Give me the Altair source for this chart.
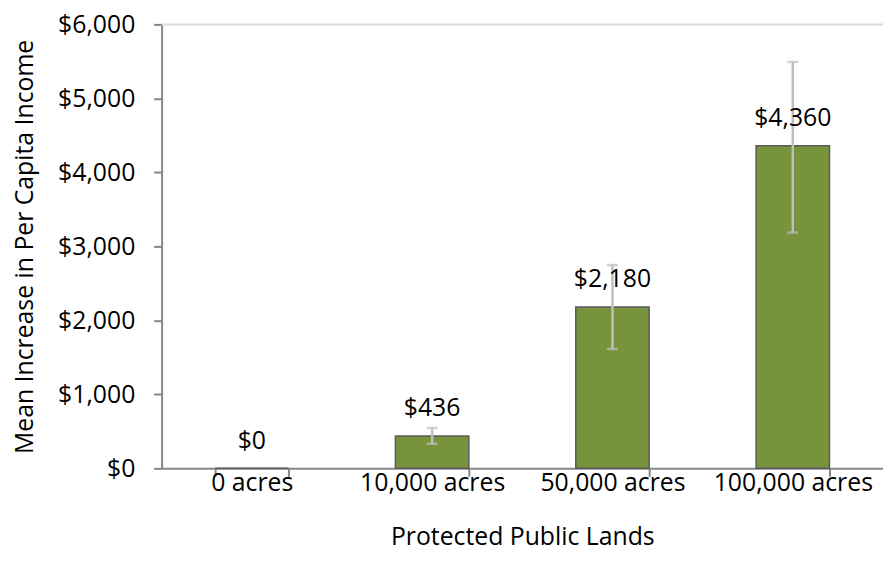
import altair as alt
import pandas as pd

categories = ["0 acres", "10,000 acres", "50,000 acres", "100,000 acres"]
values = [0, 436, 2180, 4360]
err_low = [0, 333, 1613, 3187]
err_high = [0, 547, 2747, 5493]
value_labels = ["$0", "$436", "$2,180", "$4,360"]
y_ticks = [0, 1000, 2000, 3000, 4000, 5000, 6000]
x_title = "Protected Public Lands"
y_title = "Mean Increase in Per Capita Income"

df = pd.DataFrame({"cat": categories, "value": values, "lo": err_low,
                   "hi": err_high, "label": value_labels})
grid_df = pd.DataFrame({"y": [y_ticks[-1]]})

FONT = "Open Sans"
FS = 25
AXIS_COLOR = "#868686"

x_enc = alt.X(
    "cat:N", sort=categories,
    scale=alt.Scale(paddingInner=0.593, paddingOuter=0.2967),
    axis=alt.Axis(
        title=x_title, labelAngle=0, tickBand="extent", tickSize=8,
        domainColor=AXIS_COLOR, tickColor=AXIS_COLOR, domainWidth=2, tickWidth=2,
        labelFont=FONT, labelFontSize=FS, labelColor="#000000",
        labelBaseline="alphabetic", labelPadding=14,
        titleFont=FONT, titleFontSize=FS, titleFontWeight="normal",
        titleColor="#000000", titleY=77, titleBaseline="alphabetic",
    ),
)

y_scale = alt.Scale(domain=[y_ticks[0], y_ticks[-1]], nice=False)
y_axis = alt.Axis(
    title=y_title, values=y_ticks, labelExpr="'$' + format(datum.value, ',')",
    grid=False, tickSize=8, domainColor=AXIS_COLOR, tickColor=AXIS_COLOR,
    domainWidth=2, tickWidth=2, labelFont=FONT, labelFontSize=FS,
    labelColor="#000000", labelPadding=19,
    titleFont=FONT, titleFontSize=FS, titleFontWeight="normal",
    titleColor="#000000", titleX=-130, titleBaseline="alphabetic",
)

base = alt.Chart(df)

grid = alt.Chart(grid_df).mark_rule(color="#d9d9d9", strokeWidth=2).encode(
    y=alt.Y("y:Q", scale=y_scale, axis=y_axis)
)

bars = base.mark_bar(color="#77933C", stroke="#5a5a5a", strokeWidth=1.5).encode(
    x=x_enc,
    y=alt.Y("value:Q", scale=y_scale, axis=y_axis),
)

err = base.transform_filter("datum.hi > datum.lo")

err_rule = err.mark_rule(color="#bfbfbf", strokeWidth=2.5).encode(
    x=alt.X("cat:N", sort=categories), y="lo:Q", y2="hi:Q"
)
err_lo = err.mark_tick(color="#bfbfbf", size=11, thickness=2.5).encode(
    x=alt.X("cat:N", sort=categories), y="lo:Q"
)
err_hi = err.mark_tick(color="#bfbfbf", size=11, thickness=2.5).encode(
    x=alt.X("cat:N", sort=categories), y="hi:Q"
)

text = base.mark_text(baseline="alphabetic", dy=-20, font=FONT, fontSize=FS,
                      color="#000000").encode(
    x=alt.X("cat:N", sort=categories), y="value:Q", text="label:N"
)

chart = alt.layer(grid, bars, err_rule, err_lo, err_hi, text).properties(
    width=728, height=448,
    padding={"left": 155, "top": 14, "right": 0, "bottom": 96},
    autosize="none",
).configure_view(stroke=None)

chart.save("out.html", embed_options={"renderer": "svg", "actions": False})
